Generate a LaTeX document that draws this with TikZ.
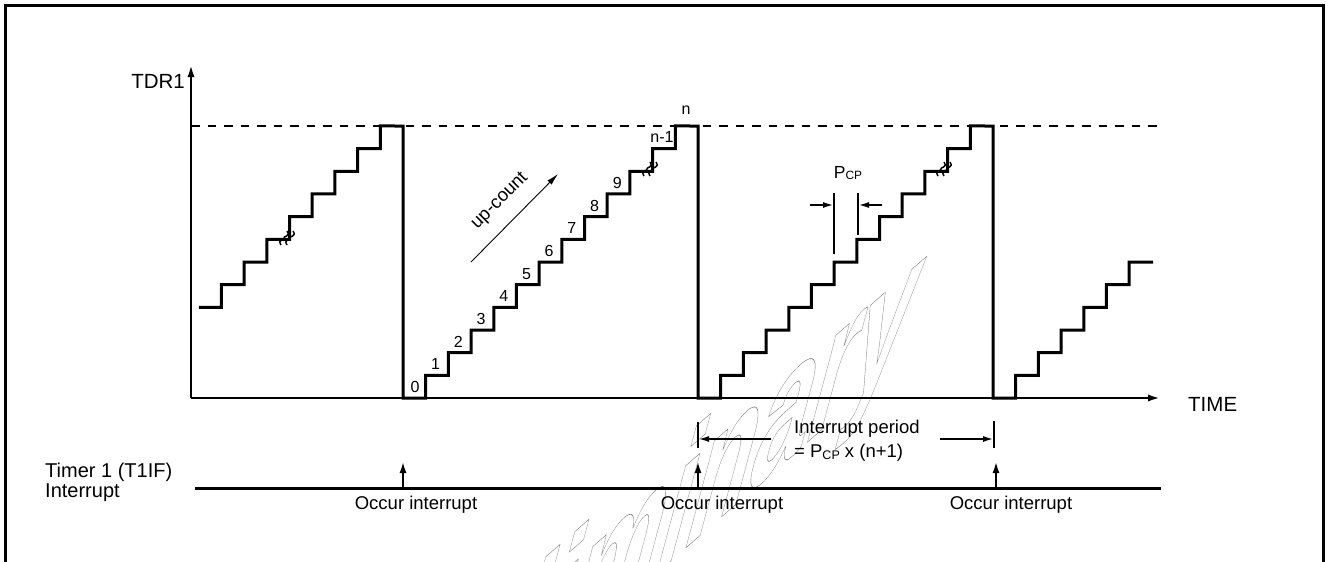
\documentclass[tikz,border=0pt]{standalone}
\usepackage{fontspec}
\setmainfont{Liberation Sans}
\usetikzlibrary{arrows.meta}
\begin{document}
\begin{tikzpicture}[x=1pt,y=-1pt,
  stair/.style={line width=3pt, line join=miter},
  axisline/.style={line width=2.6pt, -{Latex[length=13pt,width=7pt]}},
  thinarr/.style={line width=2pt, -{Latex[length=11pt,width=6pt]}},
  tick/.style={line width=2pt},
  lbl/.style={inner sep=0pt, font=\fontsize{18.5}{22}\selectfont},
  biglbl/.style={inner sep=0pt, font=\fontsize{20.5}{20}\selectfont},
  dig/.style={inner sep=0pt, font=\fontsize{16}{16}\selectfont},
  wm/.style={inner sep=0pt, transform shape, text=black!55,
    font=\fontsize{210}{210}\selectfont\bfseries},
  brk/.pic={\foreach \dx in {-3,3}{\draw[line width=1.5pt]
      (\dx-3,7) .. controls (\dx-7,1) and (\dx+1,2) .. (\dx,0)
      .. controls (\dx-1,-2) and (\dx+7,-1) .. (\dx+3,-7);}}
]
\useasboundingbox (0,0) rectangle (1328,562);
\def\w{22.69}
\def\h{22.667}
% watermark
\begin{scope}
  \clip (0,0) rectangle (1328,562);
  \begin{scope}[shift={(629,557)}]
    \node[wm, cm={0.496,0.431,0.259,0.966,(0,0)}] (wmark) at (0,0)
      {\special{pdf:literal direct 1 Tr 0.6 w}Preliminary\special{pdf:literal direct 0 Tr}};
  \end{scope}
\end{scope}
% frame
\draw[line width=3pt] (5,562) -- (5,5) -- (1323,5) -- (1323,562);
% axes
\coordinate (o) at (191,398);
\coordinate (ytop) at (191,64);
\coordinate (xend) at (1161,398);
\draw[axisline] (o) -- (ytop);
\draw[axisline] (o) -- (xend);
\node[biglbl, anchor=east] (tdr) at (185,81) {TDR1};
\node[biglbl, anchor=west] (time) at (1188,404) {TIME};
% dashed max line
\coordinate (d1) at (191,126);
\coordinate (d2) at (1157,126);
\draw[line width=2pt, dash pattern=on 8.5pt off 8pt] (d1) -- (d2);
% staircase
\draw[stair] (198.76,307.33)
  foreach \k in {5,...,12}{ -- ({108+\k*\w},{398-(\k-1)*\h}) -- ({108+\k*\w},{398-\k*\h}) }
  -- (403,126) -- (403,398)
  foreach \k in {1,...,12}{ -- ({403+\k*\w},{398-(\k-1)*\h}) -- ({403+\k*\w},{398-\k*\h}) }
  -- (698,126) -- (698,398)
  foreach \k in {1,...,12}{ -- ({698+\k*\w},{398-(\k-1)*\h}) -- ({698+\k*\w},{398-\k*\h}) }
  -- (993,126) -- (993,398)
  foreach \k in {1,...,6}{ -- ({993+\k*\w},{398-(\k-1)*\h}) -- ({993+\k*\w},{398-\k*\h}) }
  -- (1153,{398-6*\h});
% break marks
\pic at (287,238) {brk};
\pic at (650,169) {brk};
\pic at (944,169) {brk};
% count labels
\node[dig] (c0) at (415,387) {0};
\foreach \k in {1,...,9}{
  \node[dig] (c\k) at ({403+\k*\w+10},{398-\k*\h-11}) {\k};
}
\node[dig] (cn1) at (662,137) {n-1};
\node[dig] (cn) at (686,110) {n};
% up-count
\coordinate (u1) at (471,262);
\coordinate (u2) at (558,174);
\draw[line width=0.9pt, -{Latex[length=12pt,width=6pt]}] (u1) -- (u2);
\node[lbl, rotate=45] (upc) at (500,201) {up-count};
% Pcp
\coordinate (pl1) at (834,193); \coordinate (pl2) at (834,254);
\coordinate (pr1) at (858,193); \coordinate (pr2) at (858,235);
\draw[tick] (pl1) -- (pl2);
\draw[tick] (pr1) -- (pr2);
\coordinate (pa1) at (810,205); \coordinate (pa2) at (834,205);
\coordinate (pb1) at (882,205); \coordinate (pb2) at (858,205);
\draw[thinarr] (pa1) -- (pa2);
\draw[thinarr] (pb1) -- (pb2);
\node[inner sep=0pt, font=\fontsize{17.5}{17}\selectfont] (pcp) at (848,173)
  {P{\fontsize{12}{12}\selectfont\raisebox{-1.8pt}{CP}}};
% interrupt period
\coordinate (t1a) at (698,422); \coordinate (t1b) at (698,448);
\coordinate (t2a) at (994,421); \coordinate (t2b) at (994,448);
\draw[tick] (t1a) -- (t1b);
\draw[tick] (t2a) -- (t2b);
\coordinate (ia1) at (771,439); \coordinate (ia2) at (698,439);
\coordinate (ib1) at (940,439); \coordinate (ib2) at (994,439);
\draw[thinarr] (ia1) -- (ia2);
\draw[thinarr] (ib1) -- (ib2);
\node[lbl, anchor=west] (ip1) at (794,429) {Interrupt period};
\node[lbl, anchor=west] (ip2) at (794,453)
  {= P{\fontsize{12.5}{12.5}\selectfont\raisebox{-2pt}{CP}} x (n+1)};
% interrupt line
\coordinate (il1) at (195,488);
\coordinate (il2) at (1161,488);
\draw[line width=3pt] (il1) -- (il2);
\node[biglbl, anchor=west, align=left, font=\fontsize{20}{20}\selectfont] (timer) at (45,482)
  {Timer 1 (T1IF)\\Interrupt};
\foreach \x/\tx/\n in {403/416/a, 698/722/b, 996/1011/c}{
  \coordinate (ib\n) at (\x,488);
  \coordinate (it\n) at (\x,461);
  \draw[line width=2.6pt, -{Latex[length=12pt,width=7pt]}] (ib\n) -- (it\n);
  \node[lbl] (oc\n) at (\tx,505) {Occur interrupt};
}
\end{tikzpicture}
\end{document}
